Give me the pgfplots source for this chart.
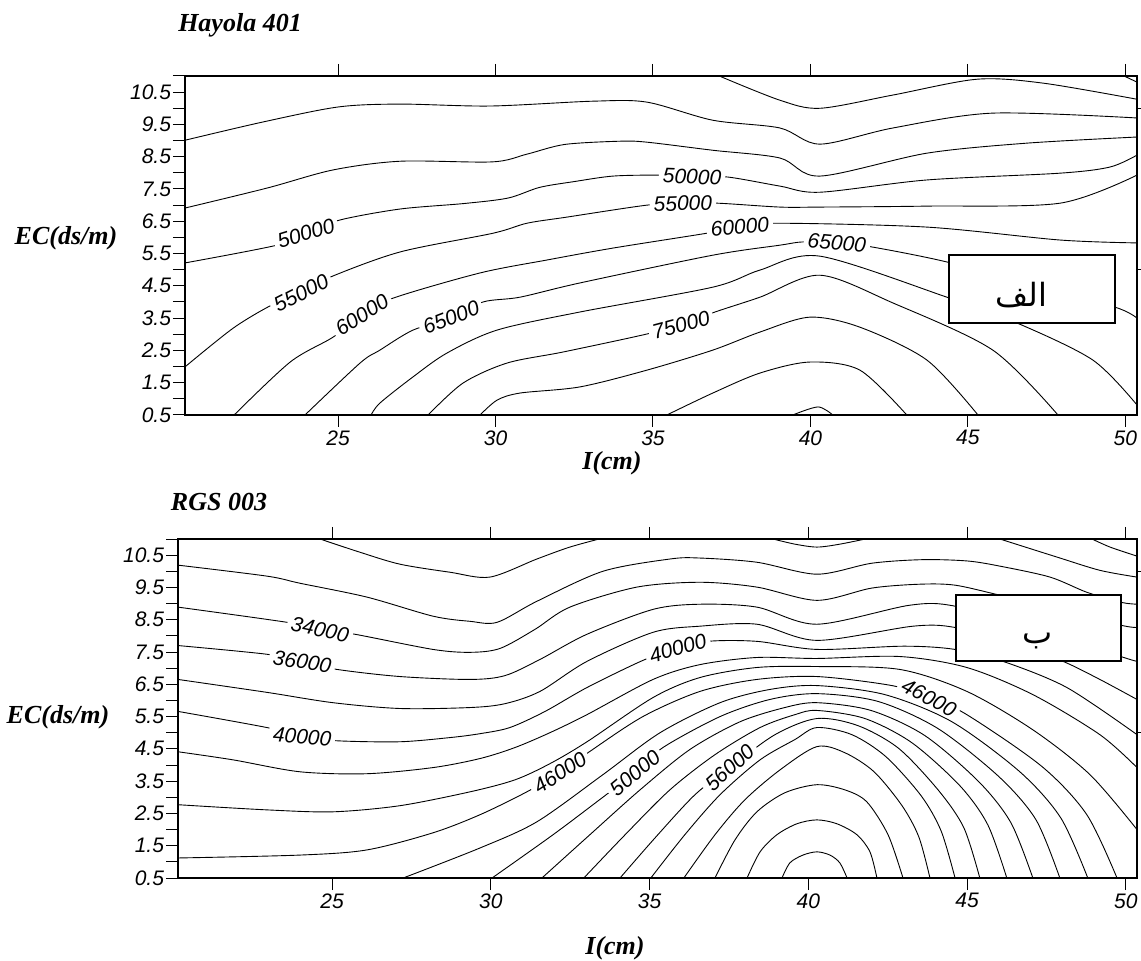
\documentclass[border=0pt]{standalone}
\usepackage{pgfplots}
\pgfplotsset{compat=1.18}
\usepackage{fontspec}
\setmainfont{Liberation Serif}
\newfontfamily\arial{Liberation Sans}
\newfontfamily\arabicfont[Script=Arabic]{DejaVu Sans}
\TeXXeTstate=1
\newcommand\tickfont{\arial\itshape\fontsize{10.5}{12}\selectfont}
\newcommand\labfont{\bfseries\itshape\fontsize{13}{15}\selectfont}

\pgfplotsset{
  panel/.style={
    scale only axis, height=169.5pt,
    ymin=0.5, ymax=11,
    xtick={25,30,35,40,45,50}, xticklabels={25,30,35,40,45,50},
    ytick={0.5,1.5,2.5,3.5,4.5,5.5,6.5,7.5,8.5,9.5,10.5},
    yticklabels={0.5,1.5,2.5,3.5,4.5,5.5,6.5,7.5,8.5,9.5,10.5},
    minor ytick={1,2,3,4,5,6,7,8,9,10,11},
    tick align=outside, major tick length=6pt, minor tick length=6pt,
    xtick pos=both, xticklabel pos=lower, ytick pos=left,
    ticklabel style={font=\tickfont},
    yticklabel style={inner xsep=0.8pt},
    xticklabel style={inner ysep=1.5pt},
    every tick/.style={black, line width=0.5pt},
    axis line style={line width=0.6pt},
    anchor=south west,
  },
  rticks/.style={
    scale only axis, height=169.5pt, ymin=0.5, ymax=11,
    axis x line=none, axis y line*=right, y axis line style={draw=none},
    ytick={5,10}, yticklabels={}, tick align=outside, major tick length=6pt,
    every tick/.style={black, line width=0.5pt}, anchor=south west,
  },
  cl/.style={black, line width=0.45pt, smooth, mark=none},
}
\tikzset{
  lbl/.style={font=\tickfont, fill=white, inner xsep=2pt, inner ysep=0.5pt},
  boxst/.style={draw=black, fill=white, line width=1.1pt},
}

\begin{document}
\begin{tikzpicture}
\path[use as bounding box] (0,0) rectangle (570.5pt,480pt);

% ---------- top panel: Hayola 401 ----------
\begin{axis}[panel, at={(92.5pt,272.5pt)}, width=476pt, xmin=20.14, xmax=50.37]
\addplot[cl] coordinates {(49.98,10.99) (50.37,10.81)};
\addplot[cl] coordinates {(37.13,10.99) (39.03,10.25) (40.30,10.0) (42.62,10.41) (45.29,10.90) (47.38,10.78) (50.37,10.28)};
\addplot[cl] coordinates {(20.14,9.01) (22.59,9.57) (25,10.04) (26.97,10.13) (29.83,10.07) (33.10,10.22) (34.81,10.19) (36.90,9.63) (39.03,9.39) (40.30,8.89) (42.62,9.39) (45.79,9.85) (50.37,9.70)};
\addplot[cl] coordinates {(20.14,6.91) (22.75,7.53) (24.84,8.09) (26.97,8.36) (29.9,8.34) (31.0,8.58) (32.2,8.88) (33.95,8.98) (34.81,8.95) (36.90,8.70) (39.03,8.46) (40.30,7.90) (43.70,8.61) (46.87,8.92) (50.37,9.11)};
\addplot[cl] coordinates {(20.14,5.21) (23.06,5.76) (23.98,6.13) (25.06,6.54) (26.97,6.88) (29.0,7.05) (30.4,7.22) (31.4,7.55) (32.5,7.73) (33.73,7.90) (35.13,7.93) (36.24,7.90) (37.38,7.87) (39.03,7.59) (40.30,7.40) (43.70,7.78) (47.92,7.99) (49.51,8.18) (50.37,8.55)};
\addplot[cl] coordinates {(20.14,1.99) (21.67,3.19) (22.90,3.91) (23.83,4.28) (24.75,4.77) (26.97,5.55) (29.92,6.13) (31.0,6.44) (32.27,6.63) (34.81,7.0) (35.95,7.05) (37.06,7.06) (39.03,6.94) (40.30,6.94) (43.70,6.97) (47.92,7.06) (50.37,7.93)};
\addplot[cl] coordinates {(21.70,0.5) (23.48,2.14) (24.84,2.91) (25.76,3.60) (26.75,4.12) (29.51,4.90) (31.63,5.30) (33.73,5.67) (36.71,6.13) (37.76,6.32) (38.94,6.44) (43.70,6.32) (47.92,5.92) (50.37,5.83)};
\addplot[cl] coordinates {(23.95,0.5) (25.70,2.11) (26.33,2.51) (27.38,3.13) (28.59,3.50) (29.60,4.0) (30.78,4.15) (32.68,4.59) (36.90,5.45) (39.03,5.76) (39.76,5.86) (40.84,5.83) (41.98,5.70) (44.33,5.24) (46.97,4.52) (49.67,3.84) (50.37,3.50)};
\addplot[cl] coordinates {(26.05,0.5) (26.33,0.87) (27.38,1.68) (28.46,2.42) (30.05,3.13) (32.68,3.69) (36.90,4.46) (38.40,4.99) (40.30,5.42) (44.33,4.15) (46.56,3.35) (48.97,2.20) (50.37,0.81)};
\addplot[cl] coordinates {(27.86,0.5) (28.97,1.49) (30.37,2.11) (32.14,2.45) (34.68,2.98) (35.89,3.29) (36.97,3.69) (38.40,4.15) (40.30,4.83) (42.62,3.97) (45.79,2.51) (47.86,0.5)};
\addplot[cl] coordinates {(29.51,0.5) (30.05,0.96) (30.78,1.18) (32.68,1.37) (34.81,1.89) (36.90,2.51) (38.40,3.07) (39.98,3.53) (41.57,3.22) (43.70,2.20) (45.32,0.5)};
\addplot[cl] coordinates {(35.44,0.5) (36.90,1.18) (38.40,1.80) (39.98,2.14) (41.57,1.89) (43.06,0.5)};
\addplot[cl] coordinates {(39.44,0.5) (40.24,0.75) (40.71,0.5)};
\node[lbl, rotate=17] at (axis cs:23.98,6.13) {50000};
\node[lbl, rotate=-2] at (axis cs:36.24,7.88) {50000};
\node[lbl, rotate=27] at (axis cs:23.83,4.28) {55000};
\node[lbl, rotate=2] at (axis cs:35.95,7.05) {55000};
\node[lbl, rotate=32] at (axis cs:25.76,3.60) {60000};
\node[lbl, rotate=5] at (axis cs:37.76,6.32) {60000};
\node[lbl, rotate=21] at (axis cs:28.59,3.52) {65000};
\node[lbl, rotate=-5] at (axis cs:40.84,5.82) {65000};
\node[lbl, rotate=15] at (axis cs:35.89,3.29) {75000};
\draw[boxst] (axis cs:44.40,3.35) rectangle (axis cs:49.67,5.45);
\node[font=\arabicfont\fontsize{16}{18}\selectfont] at (axis cs:46.70,4.22) {\beginR الف\endR};
\end{axis}
\begin{axis}[rticks, at={(92.5pt,272.5pt)}, width=476pt, xmin=20.14, xmax=50.37]
\end{axis}

% ---------- bottom panel: RGS 003 ----------
\begin{axis}[panel, at={(89pt,41pt)}, width=479.5pt, xmin=20.15, xmax=50.35]
\addplot[cl] coordinates {(24.53,11.03) (25.88,10.59) (27.14,10.22) (28.72,9.97) (29.97,9.82) (31.45,10.38) (32.49,10.75) (33.53,11.03)};
\addplot[cl] coordinates {(38.89,11.0) (39.58,10.84) (40.27,10.75) (40.99,10.84) (41.94,11.03)};
\addplot[cl] coordinates {(46.03,11.0) (47.83,10.44) (49.18,10.03) (50.35,9.82)};
\addplot[cl] coordinates {(48.87,11.03) (49.50,10.75) (50.35,10.47)};
\addplot[cl] coordinates {(20.15,10.19) (22.95,9.85) (23.99,9.63) (26.10,9.20) (28.18,8.61) (29.35,8.45) (30.20,8.42) (31.45,9.07) (33.53,10.0) (35.64,10.38) (36.59,10.41) (38.38,10.28) (40.27,9.91) (42.0,10.25) (43.6,10.36) (45.0,10.32) (46.03,10.16) (47.61,9.82) (48.77,9.35) (49.84,9.04) (50.35,8.98)};
\addplot[cl] coordinates {(20.15,8.89) (23.58,8.42) (24.62,8.20) (25.72,8.05) (28.18,7.58) (29.35,7.49) (30.29,7.61) (31.39,8.20) (32.49,8.89) (34.60,9.51) (36.59,9.66) (38.38,9.51) (40.27,9.10) (42.0,9.48) (43.51,9.60) (44.62,9.57) (46.03,9.26) (47.8,8.85) (49.84,8.33) (50.35,8.26)};
\addplot[cl] coordinates {(20.15,7.70) (22.95,7.43) (24.06,7.20) (25.16,6.96) (27.14,6.74) (29.35,6.65) (30.45,6.77) (31.55,7.27) (33.03,8.05) (35.11,8.82) (36.59,8.98) (38.38,8.89) (40.27,8.36) (43.2,8.95) (44.62,8.92) (47.3,8.20) (49.84,7.36) (50.35,7.21)};
\addplot[cl] coordinates {(20.15,6.65) (22.95,6.25) (25.03,5.93) (27.14,5.75) (29.35,5.78) (30.45,5.90) (31.55,6.28) (33.03,7.21) (35.11,8.11) (36.59,8.30) (38.38,8.36) (40.27,7.86) (43.3,8.30) (44.62,8.26) (46.5,7.75) (48.02,7.21) (49.18,6.65) (50.35,6.03)};
\addplot[cl] coordinates {(20.15,5.66) (22.95,5.16) (24.06,4.88) (25.16,4.75) (27.14,4.72) (28.72,4.85) (29.66,4.97) (30.60,5.16) (31.71,5.66) (33.03,6.40) (34.79,7.24) (35.80,7.58) (36.84,7.83) (38.38,7.83) (40.27,7.58) (43.0,7.68) (44.62,7.58) (46.13,7.21) (48.14,6.40) (50.35,4.94)};
\addplot[cl] coordinates {(20.15,4.41) (21.88,4.16) (23.99,3.79) (26.10,3.73) (28.18,3.92) (29.66,4.20) (30.76,4.54) (31.86,5.0) (33.03,5.56) (35.11,6.65) (36.59,7.11) (38.38,7.33) (40.27,7.30) (42.88,7.36) (44.99,7.02) (47.07,6.18) (49.18,4.94) (50.35,3.92)};
\addplot[cl] coordinates {(20.15,2.77) (22.95,2.61) (25.03,2.55) (27.14,2.74) (29.35,3.17) (30.76,3.54) (31.86,4.04) (33.03,4.72) (35.11,6.09) (36.59,6.71) (38.38,7.02) (40.27,7.05) (42.88,6.96) (44.99,6.28) (47.07,5.09) (48.87,3.70) (50.35,2.0)};
\addplot[cl] coordinates {(20.15,1.12) (23.99,1.21) (26.10,1.37) (28.18,1.90) (29.66,2.46) (31.08,3.14) (32.18,3.76) (33.06,4.38) (34.79,5.50) (36.59,6.28) (38.38,6.65) (40.27,6.74) (42.63,6.46) (43.80,6.09) (44.99,5.56) (47.36,3.95) (48.77,2.46) (49.72,0.5)};
\addplot[cl] coordinates {(27.24,0.5) (29.66,1.43) (31.45,2.24) (33.53,3.70) (35.33,5.0) (37.22,5.93) (38.79,6.34) (40.27,6.46) (42.41,6.18) (44.52,5.34) (46.66,3.79) (47.95,2.36) (48.80,0.5)};
\addplot[cl] coordinates {(30.04,0.5) (31.96,1.84) (33.50,2.98) (34.54,3.76) (35.42,4.54) (37.22,5.50) (38.79,6.03) (40.27,6.21) (42.19,5.97) (44.08,5.13) (46.0,3.64) (47.17,2.30) (47.92,0.5)};
\addplot[cl] coordinates {(31.61,0.5) (33.12,1.84) (34.70,3.23) (36.27,4.48) (37.85,5.34) (39.26,5.78) (40.27,5.93) (41.97,5.69) (43.67,4.91) (45.37,3.48) (46.38,2.21) (47.07,0.5)};
\addplot[cl] coordinates {(32.93,0.5) (34.23,1.84) (35.64,3.23) (37.06,4.32) (38.48,5.16) (39.58,5.56) (40.27,5.69) (41.78,5.44) (43.26,4.69) (44.77,3.36) (45.65,2.15) (46.25,0.5)};
\addplot[cl] coordinates {(34.07,0.5) (35.17,1.74) (36.43,3.08) (37.53,3.92) (38.95,4.94) (40.27,5.44) (41.56,5.22) (42.85,4.51) (44.11,3.20) (44.90,2.05) (45.40,0.5)};
\addplot[cl] coordinates {(35.04,0.5) (36.11,1.84) (37.22,3.08) (38.48,4.16) (39.58,4.79) (40.27,5.16) (41.37,4.94) (42.44,4.26) (43.55,3.05) (44.18,1.96) (44.62,0.5)};
\addplot[cl] coordinates {(36.08,0.5) (37.06,1.84) (38.00,2.92) (39.11,3.85) (40.27,4.57) (41.15,4.38) (42.07,3.79) (42.95,2.74) (43.48,1.77) (43.83,0.5)};
\addplot[cl] coordinates {(37.06,0.5) (37.69,1.68) (38.38,2.55) (39.26,3.14) (40.27,3.39) (41.15,3.23) (41.84,2.86) (42.51,1.84) (42.98,0.5)};
\addplot[cl] coordinates {(38.07,0.5) (38.48,1.31) (39.01,1.84) (39.64,2.18) (40.27,2.30) (40.90,2.18) (41.53,1.84) (41.94,1.31) (42.16,0.5)};
\addplot[cl] coordinates {(39.17,0.5) (39.42,0.97) (39.83,1.21) (40.27,1.31) (40.68,1.21) (40.99,0.97) (41.22,0.5)};
\node[lbl, rotate=-12] at (axis cs:24.62,8.20) {34000};
\node[lbl, rotate=-9] at (axis cs:24.06,7.20) {36000};
\node[lbl, rotate=-4] at (axis cs:24.06,4.88) {40000};
\node[lbl, rotate=16] at (axis cs:35.89,7.62) {40000};
\node[lbl, rotate=33] at (axis cs:32.18,3.76) {46000};
\node[lbl, rotate=40] at (axis cs:34.54,3.76) {50000};
\node[lbl, rotate=42] at (axis cs:37.53,3.92) {56000};
\node[lbl, rotate=-28] at (axis cs:43.80,6.09) {46000};
\draw[boxst] (axis cs:44.65,7.21) rectangle (axis cs:49.84,9.26);
\node[font=\arabicfont\fontsize{16}{18}\selectfont] at (axis cs:47.23,7.85) {\beginR ب\endR};
\end{axis}
\begin{axis}[rticks, at={(89pt,41pt)}, width=479.5pt, xmin=20.15, xmax=50.35]
\end{axis}

% ---------- titles and axis labels ----------
\node[font=\labfont] at (120pt,467.5pt) {Hayola 401};
\node[font=\labfont] at (33pt,361pt) {EC(ds/m)};
\node[font=\labfont] at (306pt,248.5pt) {I(cm)};
\node[font=\labfont] at (109.5pt,229pt) {RGS 003};
\node[font=\labfont] at (29pt,121.5pt) {EC(ds/m)};
\node[font=\labfont] at (307.5pt,6pt) {I(cm)};
\end{tikzpicture}
\end{document}
